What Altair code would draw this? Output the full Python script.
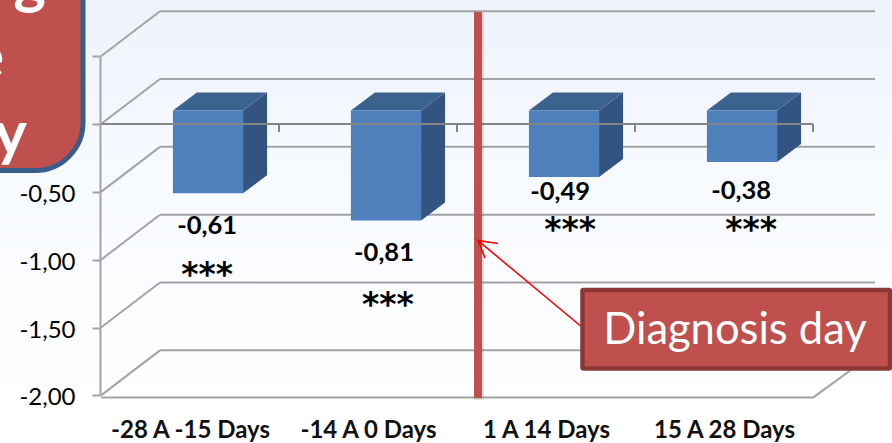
import altair as alt
import pandas as pd

# Series values and labels
categories = ["-28 A -15 Days", "-14 A 0 Days", "1 A 14 Days", "15 A 28 Days"]
values = [-0.61, -0.81, -0.49, -0.38]
y_ticks = [-2.0, -1.5, -1.0, -0.5, 0.0, 0.5]

# Placement of the value and significance labels, in axis units
value_label_x = [0.596, 1.590, 2.579, 3.596]
value_label_y = [-0.752, -0.952, -0.502, -0.494]
star_label_x = [0.596, 1.612, 2.635, 3.652]
star_label_y = [-1.196, -1.416, -0.862, -0.862]

PLOT_LEFT, PLOT_RIGHT = 101, 813
Y_TOP, Y_BOTTOM = 56.2, 395.4

def xu(px):
    return (px - PLOT_LEFT) / (PLOT_RIGHT - PLOT_LEFT) * 4

def yu(px):
    return 0.5 - (px - Y_TOP) / (Y_BOTTOM - Y_TOP) * 2.5

x_scale = alt.Scale(domain=[0, 4], range=[PLOT_LEFT, PLOT_RIGHT], nice=False, zero=False)
y_scale = alt.Scale(domain=[-2, 0.5], range=[Y_BOTTOM, Y_TOP], nice=False, zero=False)
X = lambda f="x": alt.X(f"{f}:Q", scale=x_scale, axis=None)
Y = lambda f="y": alt.Y(f"{f}:Q", scale=y_scale, axis=None)

GRID = "#a3a3a3"
FONT = "Lato"

# Page background
background = alt.Chart(pd.DataFrame({"a": [0]})).mark_rect(
    color=alt.Gradient(
        gradient="linear", x1=0, y1=0, x2=0, y2=1,
        stops=[
            alt.GradientStop(color="#eef3fb", offset=0),
            alt.GradientStop(color="#f6f9fe", offset=0.35),
            alt.GradientStop(color="#fafcff", offset=0.6),
            alt.GradientStop(color="#ffffff", offset=0.95),
        ],
    )
).encode(x=alt.value(0), x2=alt.value(892), y=alt.value(0), y2=alt.value(443))

# Axes carrying the tick labels; positive values sit under the corner box and stay unlabelled
cat_expr = "[" + ",".join(f"'{c}'" for c in categories) + "][floor(datum.value)]"
axes = alt.Chart(pd.DataFrame({"x": [0.5], "y": [0]})).mark_point(opacity=0).encode(
    x=alt.X("x:Q", scale=x_scale, axis=alt.Axis(
        values=[i + 0.5 for i in range(4)], labelExpr=cat_expr, title=None, grid=False,
        orient="bottom", offset=-46, ticks=False, domain=False, zindex=1,
        labelFont=FONT, labelFontWeight="bold", labelFontSize=24, labelColor="#111111",
        labelPadding=33, labelBaseline="middle", labelFlush=False, labelOverlap=False)),
    y=alt.Y("y:Q", scale=y_scale, axis=alt.Axis(
        values=y_ticks,
        labelExpr="datum.value < 0 ? '-' + replace(format(abs(datum.value), '.2f'), '.', ',') : ''",
        title=None, grid=False, orient="left", offset=-100, tickSize=8, tickWidth=2, tickColor=GRID,
        domainColor=GRID, domainWidth=2, labelFont=FONT, labelFontSize=24, labelColor="#000000",
        labelPadding=17, labelOffset=2.5, labelOverlap=False, labelFlush=False, zindex=1)),
)

# Back wall and side wall grid lines of the 3D frame
wall = pd.DataFrame({"y": y_ticks})
wall_dx = 59 / 178
wall_dy = 45 / 135.6
wall["y_back"] = wall.y + wall_dy
wall["x0"] = 0.0
wall["x_back"] = wall_dx
wall["x_right"] = xu(875)
back_lines = alt.Chart(wall).mark_rule(color=GRID, strokeWidth=2).encode(
    x=X("x_back"), x2="x_right:Q", y=Y("y_back"))
side_lines = alt.Chart(wall).mark_rule(color=GRID, strokeWidth=2).encode(
    x=X("x0"), x2="x_back:Q", y=Y("y"), y2="y_back:Q")
floor_front = alt.Chart(pd.DataFrame({"x": [0.0], "x2": [4.0], "y": [-2.016]})).mark_rule(
    color=GRID, strokeWidth=2).encode(x=X(), x2="x2:Q", y=Y())
floor_edge = alt.Chart(pd.DataFrame({"x": [4.0], "x2": [xu(875)], "y": [-2.016], "y2": [-2.016 + wall_dy]})
                       ).mark_rule(color=GRID, strokeWidth=2).encode(
    x=X(), x2="x2:Q", y=Y(), y2="y2:Q")

# Bars: front, side and top faces share the value and a forward shift on the page
FRONT_SHIFT = -13.5
BAR_L, BAR_R = 0.404, 0.798
DX, DY = 24 / 178, 18 / 135.6
front = pd.DataFrame({"x": [i + BAR_L for i in range(4)], "x2": [i + BAR_R for i in range(4)],
                      "y": [0.0] * 4, "y2": values})
side_rows, top_rows = [], []
for i, v in enumerate(values):
    side_rows += [{"b": i, "x": i + BAR_R, "y": 0.0, "y2": v},
                  {"b": i, "x": i + BAR_R + DX, "y": DY, "y2": v + DY}]
    top_rows += [{"b": i, "y": 0.0, "x": i + BAR_L, "x2": i + BAR_R},
                 {"b": i, "y": DY, "x": i + BAR_L + DX, "x2": i + BAR_R + DX}]
bar_front = alt.Chart(front).mark_rect(color="#4f80bc", yOffset=FRONT_SHIFT, y2Offset=FRONT_SHIFT).encode(
    x=X(), x2="x2:Q", y=Y(), y2="y2:Q")
bar_side = alt.Chart(pd.DataFrame(side_rows)).mark_area(
    color="#335480", orient="vertical", yOffset=FRONT_SHIFT, y2Offset=FRONT_SHIFT).encode(
    x=X(), y=alt.Y("y:Q", scale=y_scale, axis=None, stack=None), y2="y2:Q", detail="b:N")
bar_top = alt.Chart(pd.DataFrame(top_rows)).mark_area(
    color="#3c628f", orient="horizontal", yOffset=FRONT_SHIFT, y2Offset=FRONT_SHIFT).encode(
    y=Y(), x=alt.X("x:Q", scale=x_scale, axis=None, stack=None), x2="x2:Q", detail="b:N")

# Zero line with its tick marks at the band edges
zero_line = alt.Chart(pd.DataFrame({"x": [0.0], "x2": [4.0], "y": [0.0]})).mark_rule(
    color="#858585", strokeWidth=2).encode(x=X(), x2="x2:Q", y=Y())
zero_ticks = alt.Chart(pd.DataFrame({"x": [1.0, 2.0, 3.0, 4.0], "y": [0.0] * 4, "y2": [yu(132)] * 4})).mark_rule(
    color="#858585", strokeWidth=2).encode(x=X(), y=Y(), y2="y2:Q")

# Vertical marker for the diagnosis day
marker_df = pd.DataFrame({"x": [xu(478)], "y": [yu(12)], "y2": [yu(398)]})
marker_shadow = alt.Chart(marker_df).mark_rule(color="#555555", strokeWidth=10, opacity=0.18, xOffset=1, yOffset=1, y2Offset=2).encode(
    x=X(), y=Y(), y2="y2:Q")
marker = alt.Chart(marker_df).mark_rule(color="#c0504d", strokeWidth=8).encode(x=X(), y=Y(), y2="y2:Q")

# Labels
value_text = alt.Chart(pd.DataFrame({
    "x": value_label_x, "y": value_label_y,
    "t": [f"{v:.2f}".replace(".", ",") for v in values]})).mark_text(
    font=FONT, fontWeight="bold", fontSize=25.5, color="#000000", align="center", baseline="middle"
).encode(x=X(), y=Y(), text="t:N")
star_text = alt.Chart(pd.DataFrame({"x": star_label_x, "y": star_label_y, "t": ["***"] * 4})).mark_text(
    font="DejaVu Sans", fontWeight="bold", fontSize=33, color="#000000", align="center", baseline="alphabetic"
).encode(x=X(), y=Y(), text="t:N")

# Callout box in the corner, running off the page
corner_box = alt.Chart(pd.DataFrame({"x": [xu(-80)], "x2": [xu(83)], "y": [yu(-80)], "y2": [yu(170.5)]})).mark_rect(
    color="#c0504d", stroke="#385d8a", strokeWidth=5, cornerRadius=48).encode(
    x=X(), x2="x2:Q", y=Y(), y2="y2:Q")
corner_text = alt.Chart(pd.DataFrame({
    "x": [xu(46), xu(4), xu(27)], "y": [yu(2), yu(78), yu(155)], "t": ["g", "e", "y"]})).mark_text(
    font=FONT, fontWeight="bold", fontSize=62, color="#ffffff", align="right", baseline="alphabetic"
).encode(x=X(), y=Y(), text="t:N")

# "Diagnosis day" box and its arrow
diag_box = alt.Chart(pd.DataFrame({"x": [xu(582.5)], "x2": [xu(890)], "y": [yu(290)], "y2": [yu(368.5)]})).mark_rect(
    color="#c0504d", stroke="#8c3836", strokeWidth=4.5, cornerRadius=1).encode(
    x=X(), x2="x2:Q", y=Y(), y2="y2:Q")
diag_text = alt.Chart(pd.DataFrame({"x": [xu(735)], "y": [yu(331)], "t": ["Diagnosis day"]})).mark_text(
    font=FONT, fontSize=43.5, color="#ffffff", align="center", baseline="middle"
).encode(x=X(), y=Y(), text="t:N")
arrow = alt.Chart(pd.DataFrame({
    "p": [0, 1, 2, 3, 4],
    "x": [xu(583), xu(478), xu(498), xu(478), xu(485)],
    "y": [yu(328), yu(240.5), yu(243.5), yu(240.5), yu(258)]})).mark_line(
    color="#ff0000", strokeWidth=1.6, interpolate="linear").encode(x=X(), y=Y(), order="p:Q")

chart = alt.layer(
    background, axes, back_lines, side_lines, floor_front, floor_edge,
    bar_side, bar_top, bar_front, zero_line, zero_ticks,
    marker_shadow, marker, value_text, star_text,
    corner_box, corner_text, arrow, diag_box, diag_text,
).resolve_axis(x="independent", y="independent").properties(
    width=892, height=443, padding=0, autosize=alt.AutoSizeParams(type="none"),
).configure_view(stroke=None)

chart.save("out.html", embed_options={"renderer": "svg", "actions": False})
